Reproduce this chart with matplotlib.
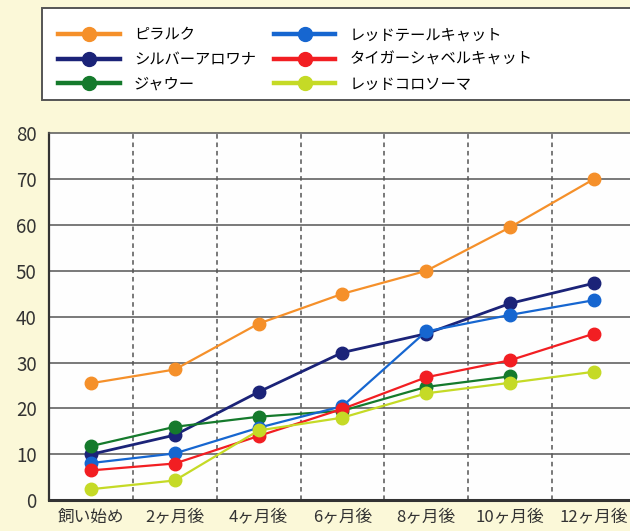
import numpy as np
import matplotlib.pyplot as plt
from matplotlib.patches import Rectangle

plt.rcParams['font.family'] = ['Noto Sans CJK JP', 'DejaVu Sans']

# Data
periods = ['飼い始め', '2ヶ月後', '4ヶ月後', '6ヶ月後', '8ヶ月後', '10ヶ月後', '12ヶ月後']
pirarucu = [25.5, 28.5, 38.5, 45, 50, 59.5, 70]
silver_arowana = [10, 14.2, 23.6, 32.2, 36.3, 42.9, 47.3]
jau = [11.8, 16, 18.2, 19.5, 24.7, 27, np.nan]
redtail = [8.1, 10.2, 15.8, 20.5, 36.8, 40.4, 43.6]
tiger_shovelnose = [6.5, 8, 14, 19.9, 26.8, 30.5, 36.3]
red_colossoma = [2.4, 4.3, 15.2, 18, 23.3, 25.6, 28]

series = [
    ('ピラルク', pirarucu, '#f5902a'),
    ('シルバーアロワナ', silver_arowana, '#1b2378'),
    ('ジャウー', jau, '#157a2c'),
    ('レッドテールキャット', redtail, '#1666d0'),
    ('タイガーシャベルキャット', tiger_shovelnose, '#f21e22'),
    ('レッドコロソーマ', red_colossoma, '#c5da26'),
]

bg = '#fbf8d8'
fig = plt.figure(figsize=(6.3, 5.31), dpi=100, facecolor=bg)
ax = fig.add_axes([0.078, 0.058, 0.931, 0.691])
ax.set_facecolor('#fefefe')

x = np.arange(len(periods)) + 0.5
handles = []
for name, vals, col in series:
    lw = 2.0 if col == '#1b2378' else 1.6
    h, = ax.plot(x, vals, color=col, lw=lw, marker='o', markersize=9,
                 markeredgecolor=col, label=name, zorder=3)
    handles.append(h)

ax.set_xlim(0, 7)
ax.set_ylim(0, 80)
ax.set_yticks(np.arange(0, 81, 10))
ax.set_xticks(x)
ax.set_xticklabels(periods, fontsize=12, color='#333333')
ax.tick_params(axis='y', labelsize=13.5, labelcolor='#333333', length=0, pad=9)
ax.tick_params(axis='x', length=0, pad=6)

# grid
for yv in range(10, 80, 10):
    ax.axhline(yv, color='#555555', lw=1.1, zorder=1)
for xv in range(1, 7):
    ax.axvline(xv, color='#555555', lw=1.1, ls=(0, (3, 2.5)), zorder=1)

ax.spines['right'].set_visible(False)
ax.spines['top'].set_color('#555555')
ax.spines['top'].set_linewidth(1.1)
ax.spines['left'].set_color('#333333')
ax.spines['left'].set_linewidth(1.6)
ax.spines['bottom'].set_color('#333333')
ax.spines['bottom'].set_linewidth(2.2)

# Legend box
fig.patches.append(Rectangle((0.067, 0.812), 1.0, 0.173, transform=fig.transFigure,
                             facecolor='white', edgecolor='#555555', lw=1.4, zorder=0))
leg_handles = []
for h in handles:
    lh, = ax.plot([], [], color=h.get_color(), lw=3.2, marker='o', markersize=10)
    leg_handles.append(lh)
fig.legend(leg_handles, [s[0] for s in series], loc='upper left',
           bbox_to_anchor=(0.083, 0.962), ncol=2, frameon=False,
           fontsize=11, handlelength=4.0, handletextpad=0.95,
           columnspacing=1.2, labelspacing=0.5, borderaxespad=0)

fig.savefig('out.png', dpi=100, facecolor=bg)
